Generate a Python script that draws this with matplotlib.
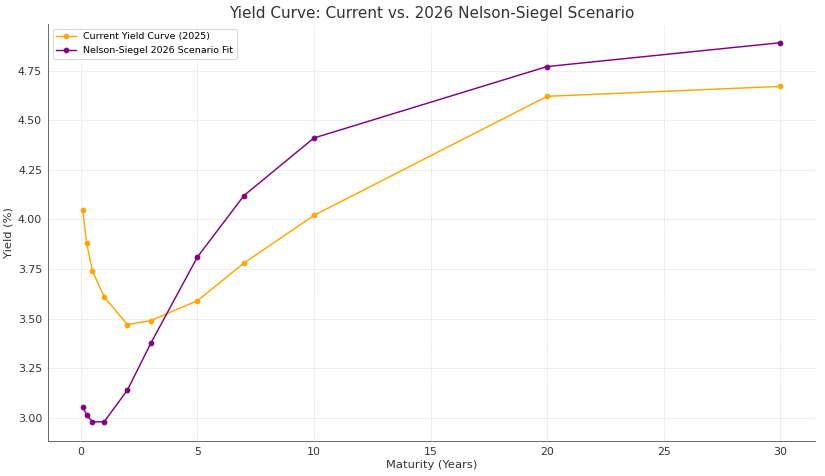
import matplotlib
matplotlib.use("Agg")
import matplotlib.pyplot as plt

maturities = [0.083, 0.25, 0.5, 1, 2, 3, 5, 7, 10, 20, 30]
current_2025 = [4.045, 3.88, 3.74, 3.61, 3.47, 3.49, 3.59, 3.78, 4.02, 4.62, 4.67]
ns_2026 = [3.055, 3.015, 2.98, 2.98, 3.14, 3.375, 3.81, 4.12, 4.41, 4.77, 4.89]

fig, ax = plt.subplots(figsize=(12, 6.924), dpi=68.75)

ax.plot(maturities, current_2025, marker='o', markersize=5, color='orange',
        linewidth=1.5, label='Current Yield Curve (2025)')
ax.plot(maturities, ns_2026, marker='o', markersize=5, color='purple',
        linewidth=1.5, label='Nelson-Siegel 2026 Scenario Fit')

ax.set_title('Yield Curve: Current vs. 2026 Nelson-Siegel Scenario', fontsize=16, color='#333333')
ax.set_xlabel('Maturity (Years)', fontsize=12, color='#333333')
ax.set_ylabel('Yield (%)', fontsize=12, color='#333333')

ax.grid(True, linestyle=':', color='#cccccc', linewidth=0.8)
for side in ['top', 'right']:
    ax.spines[side].set_visible(False)
for side in ['left', 'bottom']:
    ax.spines[side].set_color('#444444')
ax.tick_params(length=0, colors='#333333', pad=6, labelsize=11.5)

ax.legend(loc='upper left', fontsize=10)

plt.subplots_adjust(left=0.058, right=0.988, bottom=0.074, top=0.95)
plt.savefig('out.png')
